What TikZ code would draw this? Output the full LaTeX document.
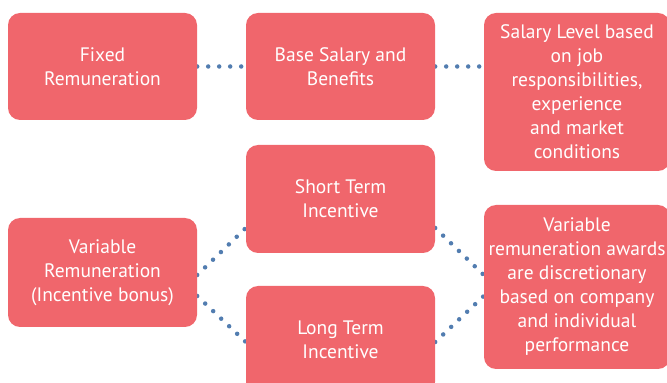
\documentclass[tikz,border=0pt]{standalone}
\usepackage{fontspec}
\setmainfont{PT Sans}
\usetikzlibrary{backgrounds}
\definecolor{boxred}{RGB}{240,102,108}
\definecolor{dotblue}{RGB}{82,125,176}
\begin{document}
\begin{tikzpicture}[x=1pt,y=1pt,
  card/.style={fill=boxred, draw=none, rounded corners=12pt, text=white, align=center,
    font=\fontsize{19.5}{24}\selectfont, inner sep=0pt},
  conn/.style={draw=dotblue, line width=4.5pt, line cap=round, dash pattern=on 0pt off 11pt}]
\useasboundingbox (0,0) rectangle (667,383);
\node[card, minimum width=189pt, minimum height=107pt] (fixed) at (102.5,316.5) {Fixed\\Remuneration};
\node[card, minimum width=189pt, minimum height=107pt] (base) at (340.5,316.5) {Base Salary and\\Benefits};
\node[card, minimum width=186pt, minimum height=158pt] (level) at (577,291) {Salary Level based\\on job\\responsibilities,\\experience\\and market\\conditions};
\node[card, minimum width=189pt, minimum height=108pt] (short) at (340.5,184) {Short Term\\Incentive};
\node[card, minimum width=189pt, minimum height=109pt] (var) at (102.5,110.5) {Variable\\Remuneration\\(Incentive bonus)};
\node[card, minimum width=189pt, minimum height=108pt] (long) at (340.5,43) {Long Term\\Incentive};
\node[card, minimum width=186pt, minimum height=164pt] (awards) at (577,96) {Variable\\remuneration awards\\are discretionary\\based on company\\and individual\\performance};
\begin{scope}[on background layer]
\draw[conn] (fixed.east) -- (base.west);
\draw[conn] (base.east) -- (level.west |- base.east);
\draw[conn] ([yshift=-2.5pt]var.east) -- ([yshift=-29pt]short.west);
\draw[conn] ([yshift=-23.5pt]var.east) -- ([yshift=-2pt]long.west);
\draw[conn] ([yshift=-29pt]short.east) -- ([yshift=12pt]awards.west);
\draw[conn] ([yshift=-2pt]long.east) -- ([yshift=-9pt]awards.west);
\end{scope}
\end{tikzpicture}
\end{document}
